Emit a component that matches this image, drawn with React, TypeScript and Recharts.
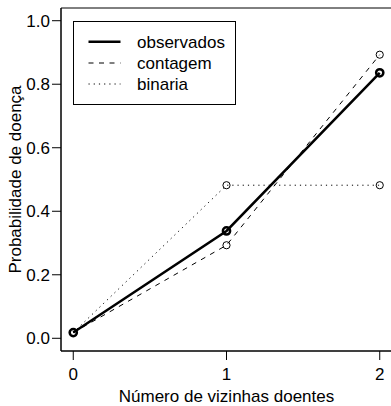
import { LineChart, Line, XAxis, YAxis, ReferenceArea } from "recharts";

const vizinhas = [0, 1, 2];
const observados = [0.018, 0.338, 0.836];
const contagem = [0.018, 0.293, 0.893];
const binaria = [0.018, 0.482, 0.482];
const xTicks = [0, 1, 2];
const yTicks = [0, 0.2, 0.4, 0.6, 0.8, 1.0];

const FONT = "'Liberation Sans', Arial, Helvetica, sans-serif";

const data = vizinhas.map((v, i) => ({
  x: v,
  observados: observados[i],
  contagem: contagem[i],
  binaria: binaria[i],
}));

const series = [
  { key: "observados", label: "observados", width: 2.5, dash: undefined },
  { key: "contagem", label: "contagem", width: 1, dash: "5 5.5" },
  { key: "binaria", label: "binaria", width: 1, dash: "1.2 4" },
];

function LegendBox() {
  const rows = [20.7, 42, 63];
  return (
    <svg
      width={164}
      height={85}
      style={{ position: "absolute", left: 72.5, top: 20.5, fontFamily: FONT }}
    >
      <rect x={0.5} y={0.5} width={162} height={83} fill="#fff" stroke="#000" />
      {series.map((s, i) => (
        <g key={s.key}>
          <line
            x1={15.5}
            x2={47.5}
            y1={rows[i]}
            y2={rows[i]}
            stroke="#000"
            strokeWidth={s.width}
            strokeDasharray={s.dash}
          />
          <text x={64} y={rows[i] + 6} fontSize={17} fill="#000">
            {s.label}
          </text>
        </g>
      ))}
    </svg>
  );
}

export default function App() {
  return (
    <div
      style={{
        position: "absolute",
        left: 0,
        top: 0,
        width: 391,
        height: 406,
        overflow: "hidden",
        background: "#fff",
      }}
    >
      <LineChart
        width={392}
        height={406}
        data={data}
        margin={{ top: 8, right: 0, bottom: 0, left: 0 }}
        style={{ fontFamily: FONT }}
      >
        <ReferenceArea
          x1={-0.08}
          x2={2.08}
          y1={-0.04}
          y2={1.04}
          fill="none"
          stroke="#000"
          strokeWidth={1}
          fillOpacity={0}
          strokeOpacity={1}
        />
        <XAxis
          dataKey="x"
          type="number"
          domain={[-0.08, 2.08]}
          ticks={xTicks}
          allowDataOverflow
          height={55}
          tickSize={9}
          tickMargin={8}
          stroke="#000"
          tick={{ fill: "#000", fontSize: 17 }}
          label={{
            value: "Número de vizinhas doentes",
            position: "insideBottom",
            offset: 4,
            fill: "#000",
            fontSize: 17,
          }}
        />
        <YAxis
          type="number"
          domain={[-0.04, 1.04]}
          ticks={yTicks}
          allowDataOverflow
          width={61}
          tickSize={9}
          tickMargin={2}
          stroke="#000"
          tickFormatter={(v: number) => v.toFixed(1)}
          tick={{ fill: "#000", fontSize: 17 }}
          label={{
            value: "Probabilidade de doença",
            angle: -90,
            position: "insideLeft",
            offset: 15,
            fill: "#000",
            fontSize: 17,
            style: { textAnchor: "middle" },
          }}
        />
        {series.map((s) => (
          <Line
            key={s.key}
            dataKey={s.key}
            type="linear"
            stroke="#000"
            strokeWidth={s.width}
            strokeDasharray={s.dash}
            dot={{
              r: 3.6,
              stroke: "#000",
              strokeWidth: s.width,
              fill: "none",
              strokeDasharray: "0",
            }}
            isAnimationActive={false}
          />
        ))}
      </LineChart>
      <LegendBox />
    </div>
  );
}
